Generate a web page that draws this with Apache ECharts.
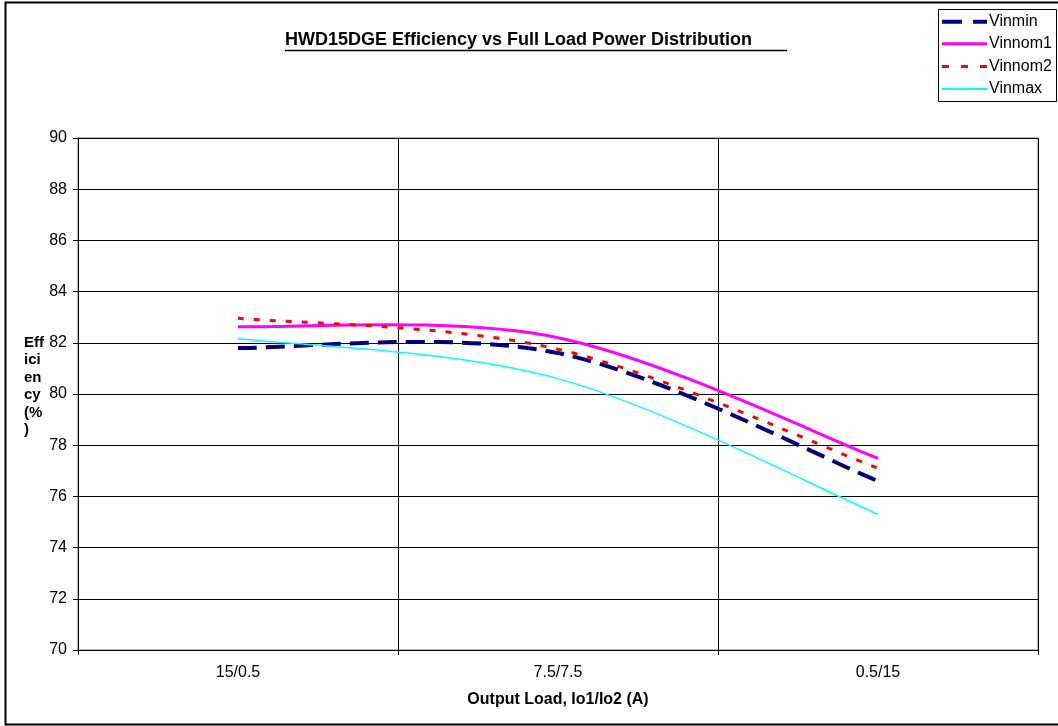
<!DOCTYPE html>
<html>
<head>
<meta charset="utf-8">
<script src="https://cdn.jsdelivr.net/npm/echarts@6/dist/echarts.min.js"></script>
<style>
html,body{margin:0;padding:0;background:#fff;}
#chart{width:1058px;height:726px;}
</style>
</head>
<body>
<div id="chart"></div>
<script>
var categories = ['15/0.5', '7.5/7.5', '0.5/15'];
var vinmin = [81.8, 81.6, 76.6];
var vinnom1 = [82.63, 82.2, 77.49];
var vinnom2 = [82.96, 81.75, 77.1];
var vinmax = [82.17, 80.6, 75.3];
var yTicks = [70, 72, 74, 76, 78, 80, 82, 84, 86, 88, 90];
var seriesNames = ['Vinmin', 'Vinnom1', 'Vinnom2', 'Vinmax'];

var FONT = '"Liberation Sans", Arial, sans-serif';
var styles = {
  Vinmin: {stroke: '#000080', lineWidth: 4, lineDash: [19, 9]},
  Vinnom1: {stroke: '#FF00FF', lineWidth: 3, lineDash: null},
  Vinnom2: {stroke: '#FF0000', lineWidth: 3, lineDash: [6, 10]},
  Vinmax: {stroke: '#00FFFF', lineWidth: 1.5, lineDash: null}
};
var legendDash = {Vinmin: [20, 11], Vinnom1: null, Vinnom2: [7, 12], Vinmax: null};
var legendWidth = {Vinmin: 4, Vinnom1: 3, Vinnom2: 3, Vinmax: 2};

// Excel-style smoothed line: cubic Bezier through the points, control arms = (next - prev) / 6
function smoothPath(pts) {
  var d = 'M' + pts[0][0] + ',' + pts[0][1];
  for (var i = 0; i < pts.length - 1; i++) {
    var p0 = pts[Math.max(i - 1, 0)], p1 = pts[i], p2 = pts[i + 1], p3 = pts[Math.min(i + 2, pts.length - 1)];
    var c1x = p1[0] + (p2[0] - p0[0]) / 6, c1y = p1[1] + (p2[1] - p0[1]) / 6;
    var c2x = p2[0] - (p3[0] - p1[0]) / 6, c2y = p2[1] - (p3[1] - p1[1]) / 6;
    d += ' C' + c1x + ',' + c1y + ' ' + c2x + ',' + c2y + ' ' + p2[0] + ',' + p2[1];
  }
  return d;
}

function mkSeries(name, arr) {
  var st = styles[name];
  return {
    name: name,
    type: 'custom',
    coordinateSystem: 'cartesian2d',
    data: arr.map(function (v, i) { return [i, v]; }),
    encode: {x: 0, y: 1},
    clip: true,
    renderItem: function (params, api) {
      if (params.dataIndex !== 0) return;
      var pts = arr.map(function (v, i) { return api.coord([i, v]); });
      return {
        type: 'path',
        shape: {pathData: smoothPath(pts)},
        style: {fill: 'none', stroke: st.stroke, lineWidth: st.lineWidth, lineDash: st.lineDash}
      };
    }
  };
}

// legend drawn as graphic elements
var legendGraphics = [
  {type: 'rect', shape: {x: 938.5, y: 9.5, width: 118, height: 92}, style: {fill: '#fff', stroke: '#000', lineWidth: 1}, z: 10}
];
var legendY = [21.7, 43.8, 66.4, 89];
seriesNames.forEach(function (n, i) {
  legendGraphics.push({type: 'line', z: 11, shape: {x1: 942, y1: legendY[i], x2: 987, y2: legendY[i]},
    style: {stroke: styles[n].stroke, lineWidth: legendWidth[n], lineDash: legendDash[n]}});
  legendGraphics.push({type: 'text', z: 11, x: 989, y: legendY[i],
    style: {text: n, font: '16px ' + FONT, fill: '#000', textVerticalAlign: 'middle', verticalAlign: 'middle'}});
});

var chart = echarts.init(document.getElementById('chart'), null, {renderer: 'canvas'});
chart.setOption({
  animation: false,
  backgroundColor: '#fff',
  textStyle: {fontFamily: FONT},
  grid: {left: 78, right: 20, top: 138, bottom: 76, show: false},
  xAxis: {
    type: 'category',
    data: categories,
    boundaryGap: true,
    name: 'Output Load, Io1/Io2 (A)',
    nameLocation: 'middle',
    nameGap: 42,
    nameTextStyle: {fontFamily: FONT, fontSize: 16, fontWeight: 'bold', color: '#000', verticalAlign: 'top'},
    axisLine: {lineStyle: {color: '#000', width: 1}},
    axisTick: {show: true, alignWithLabel: false, length: 5, lineStyle: {color: '#000'}},
    axisLabel: {fontFamily: FONT, fontSize: 16, color: '#000', margin: 15},
    splitLine: {show: true, lineStyle: {color: '#000', width: 1}}
  },
  yAxis: {
    type: 'value',
    min: yTicks[0], max: yTicks[yTicks.length - 1], interval: 2,
    axisLine: {show: true, lineStyle: {color: '#000', width: 1}},
    axisTick: {show: true, length: 5, lineStyle: {color: '#000'}},
    axisLabel: {fontFamily: FONT, fontSize: 16, color: '#000', margin: 11},
    splitLine: {show: true, lineStyle: {color: '#000', width: 1}}
  },
  series: [
    mkSeries('Vinmin', vinmin),
    mkSeries('Vinnom1', vinnom1),
    mkSeries('Vinnom2', vinnom2),
    mkSeries('Vinmax', vinmax)
  ],
  graphic: [
    {type: 'rect', shape: {x: 5.5, y: 2.5, width: 1060, height: 722}, style: {fill: null, stroke: '#000', lineWidth: 2}, silent: true},
    {type: 'rect', shape: {x: 78, y: 138, width: 960, height: 512}, style: {fill: null, stroke: '#808080', lineWidth: 1}, silent: true, z: -1},
    {type: 'text', left: 285, top: 31, style: {text: 'HWD15DGE Efficiency vs Full Load Power Distribution', font: 'bold 18px ' + FONT, fill: '#000'}},
    {type: 'line', shape: {x1: 285, y1: 50.5, x2: 787, y2: 50.5}, style: {stroke: '#000', lineWidth: 1.5}},
    {type: 'text', left: 24, top: 334, style: {text: 'Eff\nici\nen\ncy\n(%\n)', font: 'bold 15px ' + FONT, fill: '#000', lineHeight: 17.5}}
  ].concat(legendGraphics)
});
</script>
</body>
</html>
